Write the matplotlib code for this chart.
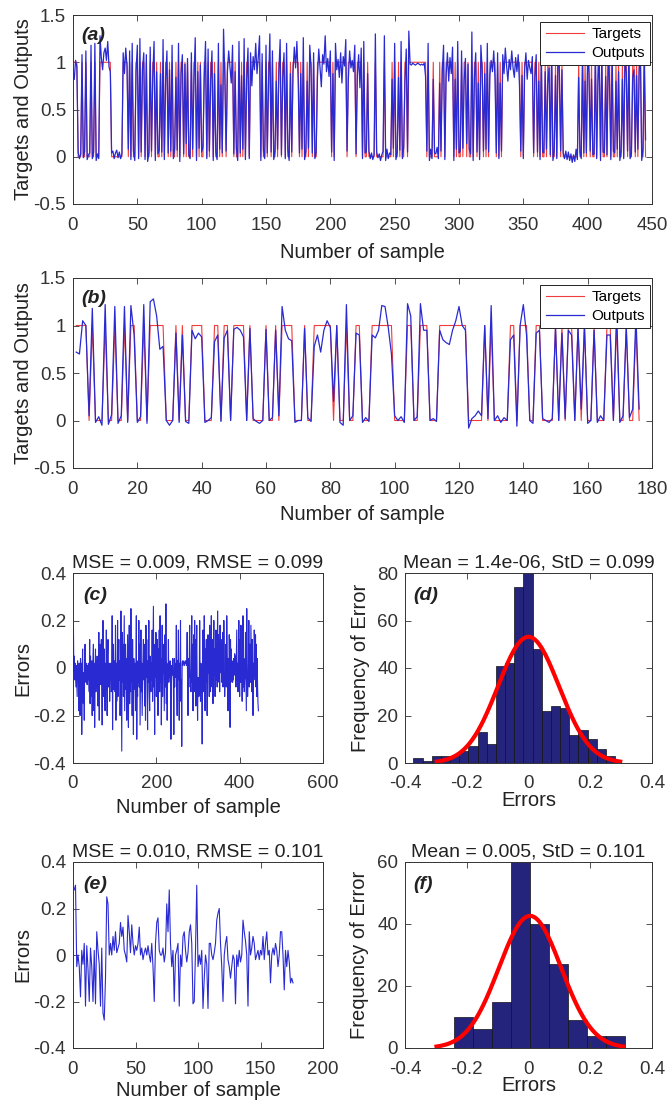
import numpy as np
import matplotlib.pyplot as plt
from matplotlib.ticker import MultipleLocator, FuncFormatter

plt.rcParams['font.family'] = ['Liberation Sans', 'DejaVu Sans']
plt.rcParams['axes.unicode_minus'] = False

# ---- training set: targets (0/1) and errors (targets - outputs) ----
train_targets = ("1110001001" "0001001000" "1111111110" "0000000011" "1101010011"
                 "0101101001" "0110100101" "0110101001" "0101101010" "0101101010"
                 "0110101101" "0010101101" "1111010010" "1010110111" "1111101001"
                 "0110100101" "1011010010" "1111101010" "0101101001" "1111111111"
                 "0101111111" "1101111110" "1111010010" "0000100000" "0100000101"
                 "0010100110" "1111111111" "1111010001" "0000101101" "1111101010"
                 "0101101001" "0110101101" "0101111101" "0101111111" "1111111010"
                 "1111111011" "0101001011" "0100101101" "0000000000" "0010010101"
                 "1010010110" "1001011010" "0101001011" "0100110101" "10010")
train_errors = [
    .18, -.02, .05, -.05, .02, -.03, -.08, .01, -.06, -.12,
    .03, -.02, -.04, -.18, .02, -.05, -.20, .04, -.03, .02,
    -.28, -.05, .08, -.10, -.15, -.02, -.22, .05, .10, -.04,
    -.06, .02, -.04, -.07, .01, -.05, .02, -.03, -.10, .12,
    -.15, .05, -.08, -.12, .03, -.20, -.06, .04, .10, -.18,
    .02, -.25, -.05, .08, -.10, .03, -.08, .05, -.04, -.16,
    -.06, .15, -.22, .04, .10, -.03, -.07, .12, -.05, -.24,
    .03, .20, -.12, -.04, .08, -.06, -.18, .02, -.09, .16,
    -.07, -.20, .05, .12, -.08, -.03, .02, -.14, -.04, -.02,
    .02, -.10, -.08, .22, -.26, .04, .10, -.09, .03, -.05,
    -.10, .18, -.22, .02, -.14, -.06, .20, -.12, .04, .12,
    -.05, .03, -.20, -.08, .24, -.04, -.35, .15, -.06, .10,
    -.12, .05, .22, -.18, -.03, .10, -.09, .04, -.22, -.04,
    .14, -.08, -.25, .03, .18, -.15, .02, -.10, .25, -.06,
    .08, -.20, .12, -.05, -.28, .04, -.09, -.07, .02, -.18,
    -.04, .22, -.30, -.05, -.12, .03, -.06, .20, -.08, .10,
    -.24, -.02, .16, -.10, .02, -.20, -.07, .04, .12, -.05,
    .10, -.16, .06, -.22, .18, -.04, .12, -.08, -.26, .03,
    -.06, .20, -.09, -.18, .05, -.04, -.10, .02, -.05, .16,
    -.14, .06, .26, -.08, .02, -.28, .10, -.04, .15, -.12,
    -.05, .12, .04, -.20, .08, -.03, .16, -.10, .22, -.06,
    .04, -.24, -.06, .18, -.12, .06, -.02, .10, -.18, -.03,
    .14, -.08, .27, -.15, .02, -.22, -.04, -.05, .12, -.06,
    .02, -.04, .03, -.02, -.30, -.05, .01, -.03, .04, -.02,
    -.06, -.28, .04, -.08, .02, -.04, -.02, .18, -.09, -.20,
    .03, -.05, .16, -.07, -.22, .02, -.10, .20, -.14, -.05,
    -.33, .02, .03, .01, .02, .03, .02, .01, .02, .03,
    .02, .03, .01, .15, -.06, -.20, .04, -.08, .02, .18,
    -.04, -.03, -.10, .02, .22, -.06, .10, -.18, .03, .14,
    -.10, .20, -.05, .12, -.16, .04, .18, -.08, -.22, -.04,
    -.06, -.12, -.09, .20, -.04, -.14, .02, -.08, -.03, -.32,
    .04, .16, -.10, -.05, .22, .03, -.18, .08, -.06, .12,
    -.08, -.20, -.05, .14, -.02, .10, -.12, .18, -.04, -.10,
    .02, .22, -.06, -.08, .12, -.15, .04, .20, -.03, .08,
    -.12, .06, .16, -.05, .10, -.08, .24, -.06, .14, .02,
    .08, -.10, .18, -.02, .06, .12, -.06, -.04, .15, -.08,
    -.05, .20, .03, -.12, -.05, -.04, .10, -.08, .22, .06,
    -.02, -.18, .04, -.06, .14, .02, -.25, .12, -.06, .08,
    -.04, .02, -.06, .03, -.05, .04, -.03, .06, -.02, .05,
    -.08, .03, .16, -.05, .02, -.10, -.04, .20, -.04, -.12,
    .12, -.06, .18, -.02, -.03, -.14, .02, .22, -.08, .04,
    -.10, -.05, -.04, .15, -.02, -.18, .25, .03, -.12, -.06,
    -.04, .20, -.08, .10, .04, -.06, .18, .02, -.10, .12,
    -.06, -.20, .02, -.03, .16, .08, -.05, .14, -.08, .10,
    -.12, .04, -.08, -.15, -.18]

# ---- test set ----
test_targets = ("1111010001" "0010010110" "0101111100" "0101001111" "0001101101"
                "1110100001" "0010111100" "0100111111" "0100100110" "0011111110"
                "0001100111" "0001111111" "1100000101" "0000011011" "1001100001"
                "0101101010" "0100011010" "010010")
test_errors = [
    .28, .30, -.05, .00, -.05, -.18, .02, -.04, .05, -.22,
    .04, -.06, -.20, .03, -.05, -.20, .02, -.21, .10, .02,
    -.04, -.22, .03, -.25, -.28, -.10, .25, .22, .00, .05,
    .00, .08, .02, .10, .01, .03, .05, .14, .08, .12,
    .02, .00, -.03, .17, .10, .01, .13, .05, .00, .04,
    .02, .05, .12, .00, .03, -.02, .01, .03, .00, .04,
    .00, -.03, .05, -.05, -.20, .05, .14, .16, .02, .00,
    .00, .03, -.03, .01, .22, .10, .28, .05, -.05, .02,
    -.20, .00, .02, .05, -.22, .00, -.05, .08, .10, .02,
    -.03, .01, .10, .13, .05, -.21, -.20, .02, .30, -.05,
    .00, -.04, .02, -.23, -.10, .00, -.04, -.23, .05, .05,
    .00, -.02, .01, .05, .15, .18, .20, .05, -.05, -.20,
    .00, .05, .08, -.02, -.05, -.10, -.05, .00, -.02, -.21,
    .00, -.05, .02, -.03, .00, .15, .10, .06, .00, -.22,
    .10, .00, .03, .08, .05, -.02, .00, .02, -.02, .02,
    .00, .08, -.02, .05, .10, .00, .02, -.12, .00, .03,
    .00, .05, .02, -.05, .00, .10, .10, .00, -.15, .02,
    -.05, .02, -.03, -.12, -.10, -.12]

# ---- histogram counts (d) and (f) ----
train_hist_left, train_hist_width = -0.373, 0.0297
train_hist_counts = [2, 1, 3, 3, 3, 5, 7, 13, 8, 41, 42, 74, 80, 48, 22, 24, 23, 12, 14, 10, 6, 3]
test_hist_left, test_hist_width = -0.24, 0.0613
test_hist_counts = [10, 6, 15, 61, 40, 27, 9, 4, 4]

train_mse, train_rmse, train_mean, train_std = 0.009, 0.099, 1.4e-06, 0.099
test_mse, test_rmse, test_mean, test_std = 0.010, 0.101, 0.005, 0.101

RED = '#f03c3c'
BLUE = '#2a2ad2'
NAVY = '#24247c'
GREY = '#333333'
TXT = '#222222'
TICK_FS, LABEL_FS, TITLE_FS = 13.5, 14.5, 14

fmt = FuncFormatter(lambda v, _: '%g' % round(v, 6))


def style(ax, xmaj, ymaj, xlim, ylim):
    ax.set_xlim(*xlim)
    ax.set_ylim(*ylim)
    ax.xaxis.set_major_locator(MultipleLocator(xmaj))
    ax.yaxis.set_major_locator(MultipleLocator(ymaj))
    ax.xaxis.set_major_formatter(fmt)
    ax.yaxis.set_major_formatter(fmt)
    ax.tick_params(direction='in', top=True, right=True, length=4, width=0.6,
                   labelsize=TICK_FS, colors=GREY)
    ax.tick_params(axis='x', pad=9)
    ax.tick_params(axis='y', pad=5)
    for s in ax.spines.values():
        s.set_color(GREY)
        s.set_linewidth(0.7)


def labels(ax, xl, yl, xy, yx):
    # xy / yx: label centre in axes coordinates
    ax.set_xlabel(xl, fontsize=LABEL_FS, color=TXT)
    ax.set_ylabel(yl, fontsize=LABEL_FS, color=TXT)
    ax.xaxis.set_label_coords(0.5, xy)
    ax.yaxis.set_label_coords(yx, 0.5)
    ax.xaxis.label.set_va('center')
    ax.yaxis.label.set_va('center')


def tag(ax, txt, x, y):
    ax.text(x, y, txt, transform=ax.transAxes, fontsize=14, fontweight='bold',
            fontstyle='italic', color=TXT, ha='left', va='center')


W, H = 667, 1106
fig = plt.figure(figsize=(W / 100, H / 100), dpi=100)


def box(l, t, r, b):
    return fig.add_axes([l / W, 1 - b / H, (r - l) / W, (b - t) / H])


def series_panel(ax, targets, errors, xmaj, xmax, label, xy, yx):
    t = np.array([int(c) for c in targets], dtype=float)
    out = t - np.array(errors)
    x = np.arange(1, len(t) + 1)
    ax.plot(x, t, color=RED, lw=0.8, label='Targets')
    ax.plot(x, out, color=BLUE, lw=0.9, label='Outputs')
    style(ax, xmaj, 0.5, (0, xmax), (-0.5, 1.5))
    labels(ax, 'Number of sample', 'Targets and Outputs', xy, yx)
    leg = ax.legend(loc='upper right', bbox_to_anchor=(0.997, 0.963), borderaxespad=0,
                    fontsize=11, handlelength=2.5, fancybox=False, framealpha=1,
                    edgecolor=TXT, borderpad=0.35, labelspacing=0.3, handletextpad=0.5)
    leg.get_frame().set_linewidth(0.7)
    tag(ax, label, 0.015, 0.89)


def error_panel(ax, errors, xmaj, xmax, title, label, xy):
    e = np.array(errors)
    x = np.arange(1, len(e) + 1)
    ax.plot(x, e, color=BLUE, lw=0.8)
    style(ax, xmaj, 0.2, (0, xmax), (-0.4, 0.4))
    ax.set_title(title, fontsize=TITLE_FS, pad=4, color=TXT)
    labels(ax, 'Number of sample', 'Errors', xy, -0.2)
    tag(ax, label, 0.04, 0.88)


def hist_panel(ax, left, width, counts, mu, sd, ymax, title, label, xy, yx):
    counts = np.array(counts)
    lefts = left + width * np.arange(len(counts))
    ax.bar(lefts, counts, width=width, align='edge', color=NAVY,
           edgecolor='#111111', linewidth=0.5)
    n = counts.sum()
    xs = np.linspace(mu - 3 * sd, mu + 3 * sd, 200)
    ys = n * width * np.exp(-0.5 * ((xs - mu) / sd) ** 2) / (sd * np.sqrt(2 * np.pi))
    ax.plot(xs, ys, color='#ff0000', lw=3)
    style(ax, 0.2, 20, (-0.4, 0.4), (0, ymax))
    ax.set_title(title, fontsize=TITLE_FS, pad=4, color=TXT)
    labels(ax, 'Errors', 'Frequency of Error', xy, yx)
    tag(ax, label, 0.035, 0.88)


ax_a = box(73, 15, 652, 204)
series_panel(ax_a, train_targets, train_errors, 50, 450, '(a)', -0.254, -0.086)

ax_b = box(73, 278, 652, 468)
series_panel(ax_b, test_targets, test_errors, 20, 180, '(b)', -0.247, -0.086)

ax_c = box(73, 573, 323, 763)
error_panel(ax_c, train_errors, 200, 600,
            'MSE = %.3f, RMSE = %.3f' % (train_mse, train_rmse), '(c)', -0.232)

ax_d = box(405, 573, 652, 763)
hist_panel(ax_d, train_hist_left, train_hist_width, train_hist_counts,
           train_mean, train_std, 80,
           'Mean = %.1e, StD = %.3f' % (train_mean, train_std), '(d)', -0.195, -0.18)

ax_e = box(73, 862, 323, 1048)
error_panel(ax_e, test_errors, 50, 200,
            'MSE = %.3f, RMSE = %.3f' % (test_mse, test_rmse), '(e)', -0.226)

ax_f = box(405, 862, 652, 1048)
hist_panel(ax_f, test_hist_left, test_hist_width, test_hist_counts,
           test_mean, test_std, 60,
           'Mean = %.3f, StD = %.3f' % (test_mean, test_std), '(f)', -0.199, -0.185)

fig.savefig('out.png', dpi=100)
